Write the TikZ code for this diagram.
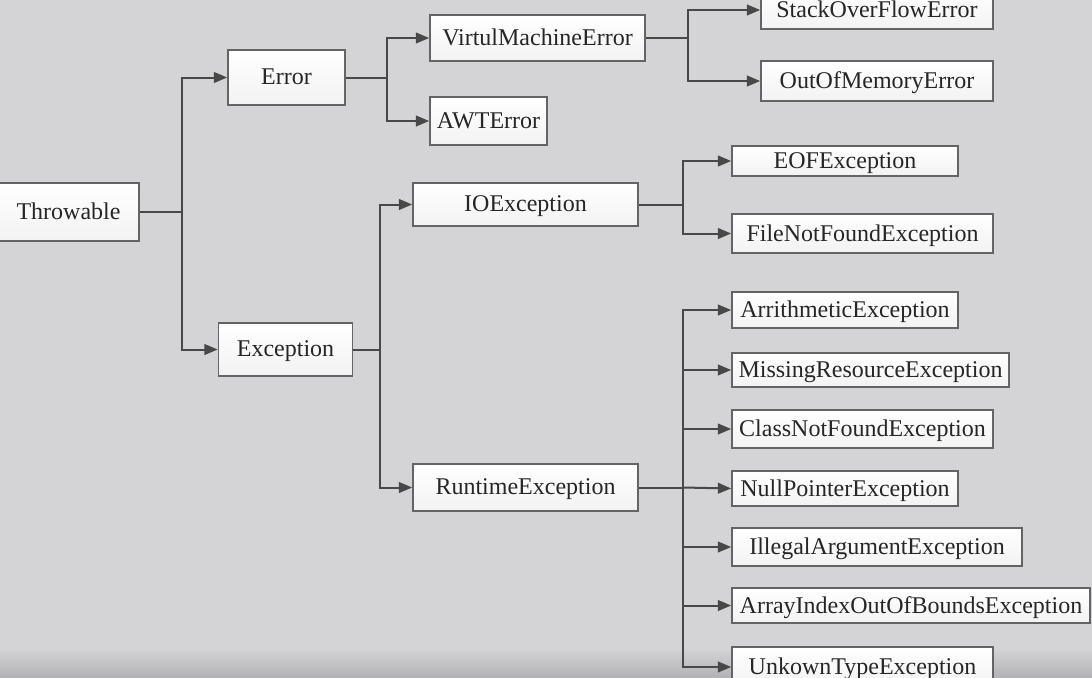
\documentclass[tikz,border=0pt]{standalone}
\usepackage{fontspec}
\setmainfont{Liberation Serif}
\usetikzlibrary{arrows.meta}
\definecolor{bgc}{RGB}{212,212,214}
\definecolor{lnc}{RGB}{72,72,72}
\definecolor{bdc}{RGB}{100,100,100}
\definecolor{txc}{RGB}{38,38,38}
\begin{document}
\begin{tikzpicture}[x=0.75pt,y=-0.75pt,
  box/.style={draw=bdc, line width=1.2pt, top color=white, bottom color=black!5,
    text=txc, font=\fontsize{18}{20}\selectfont, inner sep=0pt, text depth=0.25ex},
  bw/.style={minimum width=#1*0.75pt},
  bh/.style={minimum height=#1*0.75pt},
  arr/.style={draw=lnc, line width=1.5pt, -{Triangle[length=10pt,width=8pt]}},
  link/.style={draw=lnc, line width=1.5pt}]
\useasboundingbox (0,0) rectangle (1092,678);
\clip (0,0) rectangle (1092,678);
\fill[bgc] (0,0) rectangle (1092,678);
\shade[top color=bgc, bottom color={rgb,255:red,178;green,178;blue,180}] (0,648) rectangle (1092,678);

% nodes
\node[box, bw=141, bh=58] (thr) at (68.5,212) {Throwable};
\node[box, bw=117, bh=55] (err) at (286.5,77.5) {Error};
\node[box, bw=134, bh=53] (exc) at (285.5,349.5) {Exception};
\node[box, bw=215, bh=46] (vme) at (537.5,38) {VirtulMachineError};
\node[box, bw=117, bh=48] (awt) at (488.5,121) {AWTError};
\node[box, bw=232, bh=38] (soe) at (877,10) {StackOverFlowError};
\node[box, bw=232, bh=40] (oom) at (877,81) {OutOfMemoryError};
\node[box, bw=225, bh=43] (ioe) at (525.5,204.5) {IOException};
\node[box, bw=225, bh=47] (rte) at (525.5,487.5) {RuntimeException};
\node[box, bw=226, bh=30] (eof) at (845,161) {EOFException};
\node[box, bw=261, bh=39] (fnf) at (862.5,233.5) {FileNotFoundException};
\node[box, bw=226, bh=36] (ari) at (845,310) {ArrithmeticException};
\node[box, bw=277, bh=34] (mre) at (870.5,370) {MissingResourceException};
\node[box, bw=261, bh=38] (cnf) at (862.5,429) {ClassNotFoundException};
\node[box, bw=226, bh=35] (npe) at (845,488.5) {NullPointerException};
\node[box, bw=290, bh=38] (iae) at (877,547) {IllegalArgumentException};
\node[box, bw=358, bh=35] (aio) at (911,605.5) {ArrayIndexOutOfBoundsException};
\node[box, bw=261, bh=40] (ute) at (862.5,667) {UnkownTypeException};

% bus points
\coordinate (b0) at (182,212);
\coordinate (b1) at (387,77.5);
\coordinate (b2) at (688,38);
\coordinate (b3) at (380,349.5);
\coordinate (b4) at (683,204.5);
\coordinate (b5) at (683,487.5);

% connectors
\draw[link] (thr.east) -- (b0);
\draw[arr] (b0) |- (err.west);
\draw[arr] (b0) |- (exc.west);

\draw[link] (err.east) -- (b1);
\draw[arr] (b1) |- (vme.west);
\draw[arr] (b1) |- (awt.west);

\draw[link] (vme.east) -- (b2);
\draw[arr] (b2) |- (soe.west);
\draw[arr] (b2) |- (oom.west);

\draw[link] (exc.east) -- (b3);
\draw[arr] (b3) |- (ioe.west);
\draw[arr] (b3) |- (rte.west);

\draw[link] (ioe.east) -- (b4);
\draw[arr] (b4) |- (eof.west);
\draw[arr] (b4) |- (fnf.west);

\draw[link] (rte.east) -- (b5);
\draw[arr] (b5) |- (ari.west);
\draw[arr] (b5) |- (mre.west);
\draw[arr] (b5) |- (cnf.west);
\draw[arr] (b5) -- (npe.west);
\draw[arr] (b5) |- (iae.west);
\draw[arr] (b5) |- (aio.west);
\draw[arr] (b5) |- (ute.west);
\end{tikzpicture}
\end{document}
